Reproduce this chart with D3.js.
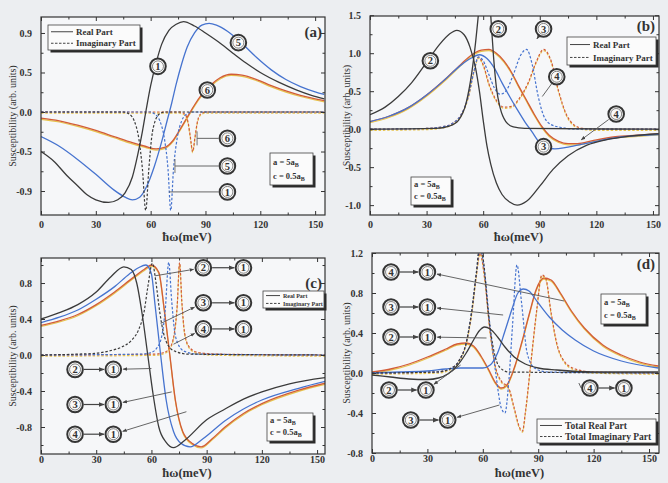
<!DOCTYPE html>
<html>
<head>
<meta charset="utf-8">
<script src="https://cdnjs.cloudflare.com/ajax/libs/d3/7.8.5/d3.min.js"></script>
<style>
  body { margin: 0; background: #eceef1; }
  svg { display: block; font-family: "Liberation Serif", "Times New Roman", serif; }
</style>
</head>
<body>
<svg id="fig" width="668" height="483"></svg>
<script>
// ---- ticks ----
const xTicks = [0, 30, 60, 90, 120, 150];
const yTicksA = [0.9, 0.45, 0, -0.45, -0.9];
const yLabelsA = ["0.9", "0.5", "0.0", "-0.5", "-0.9"];
const yTicksB = [1.5, 1.0, 0.5, 0, -0.5, -1.0];
const yLabelsB = ["1.5", "1.0", "0.5", "0.0", "-0.5", "-1.0"];
const yTicksC = [0.8, 0.4, 0, -0.4, -0.8];
const yLabelsC = ["0.8", "0.4", "0.0", "-0.4", "-0.8"];
const yTicksD = [1.2, 0.8, 0.4, 0, -0.4, -0.8];
const yLabelsD = ["1.2", "0.8", "0.4", "0.0", "-0.4", "-0.8"];

// ---- panel (a): [hw (meV), susceptibility] ----
const aReal1 = [[0,-0.45],[7,-0.56],[14,-0.72],[20,-0.84],[25,-0.94],[30,-1.0],[37,-1.03],[42,-1.0],[46,-0.92],[50,-0.74],[53,-0.48],[55.5,-0.22],[57.5,0.02],[60,0.3],[63,0.56],[66,0.77],[70,0.93],[74,1.0],[78,1.03],[84,0.98],[90,0.9],[97,0.8],[105,0.67],[112,0.56],[120,0.45],[130,0.34],[140,0.25],[148,0.19],[155,0.15]];
const aImag1 = [[0,0],[45,0],[48,-0.02],[51,-0.1],[53.5,-0.3],[55.5,-0.65],[57.3,-1.12],[59,-0.65],[60.5,-0.3],[62.5,-0.1],[65,-0.02],[68,0],[155,0]];
const aReal5 = [[0,-0.28],[10,-0.39],[20,-0.54],[30,-0.71],[40,-0.89],[46,-0.97],[50,-1.0],[54,-0.97],[58,-0.84],[62,-0.62],[66,-0.34],[69,-0.1],[71.5,0.1],[74,0.32],[77,0.55],[80,0.74],[84,0.9],[88,0.99],[92,1.01],[96,0.99],[102,0.92],[110,0.78],[118,0.62],[126,0.48],[134,0.37],[142,0.29],[150,0.23],[155,0.2]];
const aImag5 = [[0,0],[60,0],[62,-0.02],[65,-0.1],[67.5,-0.3],[69.5,-0.65],[71,-1.12],[72.5,-0.65],[74.5,-0.3],[77,-0.1],[80,-0.02],[83,0],[155,0]];
const aReal6 = [[0,-0.07],[10,-0.1],[20,-0.15],[30,-0.21],[40,-0.28],[50,-0.35],[57,-0.39],[63,-0.42],[68,-0.4],[72,-0.33],[76,-0.2],[80,-0.06],[84,0.08],[88,0.2],[93,0.31],[98,0.39],[104,0.43],[110,0.42],[118,0.37],[126,0.3],[134,0.24],[142,0.19],[150,0.15],[155,0.13]];
const aImag6 = [[0,0],[76,0],[79,-0.03],[80.5,-0.12],[81.7,-0.28],[83,-0.45],[84.3,-0.28],[85.5,-0.12],[87,-0.03],[90,0],[155,0]];

// ---- panel (b) ----
const bReal2 = [[0,0.19],[8,0.29],[15,0.43],[22,0.61],[30,0.88],[37,1.12],[42,1.25],[46,1.3],[50,1.24],[53,1.08],[56,0.8],[58,0.5],[60,0.12],[62,-0.22],[64,-0.46],[67,-0.71],[70,-0.86],[74,-0.96],[78,-1.0],[83,-0.95],[90,-0.75],[97,-0.53],[105,-0.35],[115,-0.21],[125,-0.14],[138,-0.09],[153,-0.06]];
const bImag2 = [[0,0],[35,0.01],[42,0.04],[47,0.12],[51,0.35],[54,0.75],[56,1.15],[58,1.65],[60,2.2],[62,2.1],[64,1.5],[65.5,0.95],[67,0.55],[69,0.28],[72,0.1],[76,0.03],[82,0.01],[153,0]];
const bReal3 = [[0,0.1],[10,0.17],[20,0.28],[30,0.45],[40,0.66],[48,0.84],[54,0.94],[58,0.98],[62,0.93],[66,0.8],[70,0.61],[74,0.43],[78,0.26],[82,0.1],[86,-0.04],[89,-0.15],[93,-0.24],[98,-0.26],[104,-0.24],[112,-0.2],[122,-0.15],[134,-0.1],[145,-0.08],[153,-0.07]];
const bImag3 = [[0,0],[30,0.01],[38,0.03],[44,0.08],[48,0.18],[52,0.42],[55,0.75],[57.5,0.95],[60,0.9],[63,0.72],[66,0.54],[69,0.46],[72,0.5],[76,0.72],[80,0.98],[83,1.05],[86,0.85],[89,0.45],[92,0.18],[96,0.06],[102,0.02],[110,0],[153,0]];
const bReal4 = [[0,0.1],[10,0.17],[20,0.28],[30,0.45],[40,0.66],[48,0.85],[54,0.98],[59,1.04],[63,1.05],[67,1.0],[71,0.9],[75,0.75],[79,0.56],[83,0.38],[87,0.2],[91,0.04],[95,-0.08],[100,-0.16],[105,-0.19],[110,-0.19],[118,-0.15],[130,-0.1],[142,-0.08],[153,-0.06]];
const bImag4 = [[0,0],[30,0.01],[38,0.03],[44,0.08],[48,0.18],[52,0.42],[55,0.75],[57.5,0.95],[60,0.85],[63,0.6],[67,0.38],[71,0.29],[75,0.3],[79,0.4],[84,0.62],[88,0.88],[92,1.05],[96,0.9],[100,0.5],[104,0.2],[108,0.06],[113,0.01],[120,0],[153,0]];

// ---- panel (c) ----
const cReal21 = [[0,0.4],[10,0.47],[20,0.56],[30,0.7],[38,0.87],[45,0.98],[49,0.95],[52,0.8],[55,0.45],[58,0.0],[61,-0.45],[64,-0.8],[68,-0.97],[72,-1.03],[78,-0.95],[90,-0.72],[100,-0.6],[110,-0.49],[120,-0.41],[135,-0.32],[155,-0.25]];
const cImag21 = [[0,0],[20,0.01],[30,0.02],[38,0.05],[44,0.09],[49,0.16],[53,0.28],[56,0.48],[58,0.75],[60.5,1.02],[62.5,0.8],[64.5,0.48],[66.5,0.25],[69,0.11],[73,0.04],[80,0.01],[155,0]];
const cReal31 = [[0,0.36],[10,0.42],[20,0.5],[30,0.62],[40,0.76],[48,0.9],[53,0.97],[57,1.0],[60,0.9],[62,0.55],[65,0.0],[68,-0.5],[72,-0.85],[76,-0.98],[81,-1.02],[88,-0.93],[100,-0.73],[110,-0.6],[120,-0.5],[140,-0.37],[155,-0.29]];
const cImag31 = [[0,0],[55,0.01],[60,0.03],[63,0.08],[65.5,0.2],[67.5,0.5],[69.4,1.03],[71,0.6],[72.5,0.28],[74.5,0.12],[78,0.04],[85,0.01],[155,0]];
const cReal41 = [[0,0.33],[10,0.38],[20,0.45],[30,0.56],[40,0.7],[50,0.86],[56,0.95],[60,1.0],[64,0.92],[67,0.5],[70,0.0],[73,-0.5],[77,-0.85],[82,-0.98],[87,-1.02],[93,-0.93],[100,-0.8],[110,-0.65],[120,-0.54],[140,-0.39],[155,-0.31]];
const cImag41 = [[0,0],[62,0.01],[67,0.03],[70,0.08],[72.5,0.25],[74,0.55],[75.3,1.03],[76.5,0.6],[78,0.25],[80.5,0.09],[85,0.03],[95,0.01],[155,0]];

// ---- panel (d) ----
const dReal21 = [[0,-0.02],[10,-0.04],[20,-0.06],[30,-0.065],[36,-0.05],[41,-0.01],[46,0.07],[51,0.2],[55,0.33],[58,0.42],[61,0.46],[64,0.44],[68,0.36],[72,0.26],[77,0.16],[83,0.09],[90,0.05],[100,0.03],[120,0.01],[155,0.01]];
const dImag21 = [[0,0],[35,0.01],[42,0.04],[47,0.12],[51,0.3],[54,0.62],[56.5,1.0],[58.5,1.3],[60.5,1.1],[63,0.6],[66,0.22],[69,0.06],[74,0.01],[155,0]];
const dReal31 = [[0,0],[15,0.01],[30,0.02],[40,0.04],[48,0.05],[55,0.05],[60,0.05],[64,0.08],[68,0.2],[72,0.42],[76,0.65],[79,0.8],[82,0.84],[85,0.82],[90,0.7],[96,0.56],[103,0.43],[110,0.33],[120,0.22],[135,0.12],[155,0.05]];
const dImag31 = [[0,0],[35,0.01],[42,0.04],[47,0.12],[51,0.3],[54,0.62],[56.5,1.0],[58.5,1.25],[61,1.0],[64,0.45],[67,0.0],[70,-0.35],[72,-0.4],[74,-0.1],[76,0.45],[78.5,1.08],[81,0.7],[84,0.2],[88,0.05],[95,0.01],[155,0]];
const dReal41 = [[0,0.01],[10,0.04],[20,0.09],[30,0.16],[40,0.24],[46,0.29],[51,0.3],[55,0.27],[59,0.17],[63,0.04],[67,-0.1],[70,-0.15],[73,-0.12],[77,0.05],[81,0.3],[85,0.58],[89,0.84],[93,0.95],[97,0.93],[102,0.8],[108,0.62],[115,0.45],[125,0.28],[135,0.18],[145,0.11],[155,0.07]];
const dImag41 = [[0,0],[35,0.01],[42,0.04],[47,0.12],[51,0.3],[54,0.6],[56.5,0.98],[58.5,1.2],[61,0.95],[64,0.4],[67,0.05],[70,-0.08],[74,-0.15],[77,-0.35],[80,-0.55],[81.5,-0.58],[83,-0.4],[86,0.1],[89,0.6],[92,0.98],[94,0.95],[97,0.6],[100,0.3],[104,0.12],[110,0.04],[120,0.01],[155,0]];

const BLACK = "#3b3b3b", BLUE = "#4673cf", ORANGE = "#d25c38", YELLOW = "#e7c44c";

const panels = [
  { letter: "(a)", left: 41, right: 325, top: 17, bottom: 215, xMax: 155.4, yDom: [-1.173, 1.082],
    yTicks: yTicksA, yLabels: yLabelsA, yMinor: [0.675, 0.225, -0.225, -0.675], ylabX: 12, xPad: 6, xlabY: 241,
    series: [
      { d: aReal6, c: ORANGE }, { d: aImag6, c: ORANGE, dash: true },
      { d: aReal5, c: BLUE }, { d: aImag5, c: BLUE, dash: true },
      { d: aReal1, c: BLACK }, { d: aImag1, c: BLACK, dash: true }
    ],
    legend: { x: 48, y: 25, w: 92, h: 25, fs: 9, line: 22, items: ["Real Part", "Imaginary Part"] },
    info: { x: 270, y: 153, w: 43, h: 32 },
    letterPos: [322, 37] },
  { letter: "(b)", left: 370, right: 659, top: 16, bottom: 215, xMax: 153.2, yDom: [-1.13, 1.49],
    yTicks: yTicksB, yLabels: yLabelsB, yMinor: [1.25, 0.75, 0.25, -0.25, -0.75], ylabX: 346, xPad: 6, xlabY: 241,
    series: [
      { d: bReal4, c: ORANGE }, { d: bImag4, c: ORANGE, dash: true },
      { d: bReal3, c: BLUE }, { d: bImag3, c: BLUE, dash: true },
      { d: bReal2, c: BLACK }, { d: bImag2, c: BLACK }
    ],
    legend: { x: 567, y: 37, w: 89, h: 28, fs: 9, line: 20, items: ["Real Part", "Imaginary Part"] },
    info: { x: 411, y: 177, w: 40, h: 28 },
    letterPos: [655, 31] },
  { letter: "(c)", left: 41, right: 325, top: 258, bottom: 454, xMax: 154.3, yDom: [-1.1, 1.078],
    yTicks: yTicksC, yLabels: yLabelsC, yMinor: [1.0, 0.6, 0.2, -0.2, -0.6, -1.0], ylabX: 12, xPad: 2, xlabY: 477,
    series: [
      { d: cReal41, c: ORANGE }, { d: cImag41, c: ORANGE, dash: true },
      { d: cReal31, c: BLUE }, { d: cImag31, c: BLUE, dash: true },
      { d: cReal21, c: BLACK }, { d: cImag21, c: BLACK, dash: true }
    ],
    legend: { x: 263, y: 291, w: 61, h: 17, fs: 6, line: 14, items: ["Real Part", "Imaginary Part"] },
    info: { x: 267, y: 413, w: 46, h: 28 },
    letterPos: [322, 288] },
  { letter: "(d)", left: 372, right: 659, top: 253, bottom: 453, xMax: 155.4, yDom: [-0.8, 1.2],
    yTicks: yTicksD, yLabels: yLabelsD, yMinor: [1.0, 0.6, 0.2, -0.2, -0.6], ylabX: 346, xPad: 2, xlabY: 477,
    series: [
      { d: dReal41, c: ORANGE }, { d: dImag41, c: ORANGE, dash: true },
      { d: dReal31, c: BLUE }, { d: dImag31, c: BLUE, dash: true },
      { d: dReal21, c: BLACK }, { d: dImag21, c: BLACK, dash: true }
    ],
    legend: { x: 537, y: 419, w: 119, h: 24, fs: 9.5, line: 22, items: ["Total Real Part", "Total Imaginary Part"] },
    info: { x: 601, y: 294, w: 45, h: 30 },
    letterPos: [655, 269] }
];

// circled labels, in data units: single [v, val, text], pairs [vA, vB, val, a, b]
// leaders [v1, val1, v2, val2, kind]
const notes = [
  { singles: [[64, 0.52, "1"], [108, 0.79, "5"], [91, 0.25, "6"], [102, -0.30, "6"], [102, -0.615, "5"], [102, -0.91, "1"]],
    pairs: [],
    leaders: [[85.4, -0.30, 102, -0.30, "bar"], [73.3, -0.615, 102, -0.615, "bar"], [70, -0.91, 102, -0.91, ""]] },
  { singles: [[32, 0.9, "2"], [68, 1.32, "2"], [92, 1.32, "3"], [99, 0.69, "4"], [92, -0.23, "3"], [130.5, 0.2, "4"]],
    pairs: [],
    leaders: [[92, 1.32, 88.5, 1.19, "arrow"], [130.5, 0.2, 112, -0.14, "arrow"], [99, 0.69, 96, 0.43, ""]] },
  { singles: [],
    pairs: [[88.2, 110, 0.97, "2", "1"], [88.2, 110, 0.58, "3", "1"], [88.2, 110, 0.29, "4", "1"],
            [18.5, 39.3, -0.16, "2", "1"], [18.5, 39.3, -0.55, "3", "1"], [18.5, 39.3, -0.88, "4", "1"]],
    leaders: [[62, 0.88, 88.2, 0.97, "in"], [65, 0.35, 88.2, 0.58, "in"], [72, 0.12, 88.2, 0.29, "in"],
              [60, -0.15, 39.3, -0.16, "in"], [71, -0.41, 39.3, -0.55, "in"], [79, -0.63, 39.3, -0.88, "in"]] },
  { singles: [],
    pairs: [[10.3, 30, 1.01, "4", "1"], [10.3, 30, 0.66, "3", "1"], [10.3, 30, 0.36, "2", "1"],
            [9.2, 29.2, -0.17, "2", "1"], [21, 41, -0.47, "3", "1"], [118, 136.4, -0.15, "4", "1"]],
    leaders: [[104, 0.72, 30, 1.01, "in"], [71, 0.58, 30, 0.66, "in"], [62, 0.35, 30, 0.36, "in"],
              [48, 0.08, 29.2, -0.17, "in"], [69, -0.32, 41, -0.47, "in"], [112, -0.1, 118, -0.15, ""]] }
];

const svg = d3.select("#fig");
const defs = svg.append("defs");
defs.append("marker").attr("id", "arr").attr("viewBox", "0 0 10 10")
  .attr("refX", 9).attr("refY", 5).attr("markerWidth", 5).attr("markerHeight", 5)
  .attr("orient", "auto")
  .append("path").attr("d", "M0,1L10,5L0,9z").attr("fill", "#444");

const R = 7.8;

function circleLabel(g, cx, cy, t) {
  g.append("circle").attr("cx", cx).attr("cy", cy).attr("r", R)
    .attr("fill", "#fafafa").attr("stroke", "#353535").attr("stroke-width", 2);
  g.append("circle").attr("cx", cx).attr("cy", cy).attr("r", R - 2.3)
    .attr("fill", "none").attr("stroke", "#555").attr("stroke-width", 0.7);
  g.append("text").attr("x", cx).attr("y", cy + 3.6).attr("text-anchor", "middle")
    .attr("font-size", 10.5).attr("font-weight", "bold").attr("fill", "#333").text(t);
}

function shadowBox(g, b) {
  g.append("rect").attr("x", b.x + 2.5).attr("y", b.y + 2.5).attr("width", b.w).attr("height", b.h).attr("fill", "#2a2a2a");
  g.append("rect").attr("x", b.x).attr("y", b.y).attr("width", b.w).attr("height", b.h)
    .attr("fill", "#fbfbfb").attr("stroke", "#444").attr("stroke-width", 0.8);
}

panels.forEach((p, i) => {
  const x = d3.scaleLinear().domain([0, p.xMax]).range([p.left, p.right]);
  const y = d3.scaleLinear().domain(p.yDom).range([p.bottom, p.top]);
  const g = svg.append("g");
  const W = p.right - p.left, H = p.bottom - p.top;

  g.append("rect").attr("x", p.left).attr("y", p.top).attr("width", W).attr("height", H).attr("fill", "#f6f7f9");

  const clipId = "clip" + i;
  defs.append("clipPath").attr("id", clipId).append("rect")
    .attr("x", p.left).attr("y", p.top).attr("width", W).attr("height", H);

  const line = d3.line().x(d => x(d[0])).y(d => y(d[1])).curve(d3.curveMonotoneX);
  const plot = g.append("g").attr("clip-path", `url(#${clipId})`);

  p.series.forEach(s => {
    if (s.c === ORANGE) {
      plot.append("path").attr("d", line(s.d)).attr("fill", "none").attr("stroke", YELLOW)
        .attr("stroke-width", 1.2).attr("transform", "translate(0,1.2)")
        .attr("stroke-dasharray", s.dash ? "2.5,1.8" : null);
    }
    plot.append("path").attr("d", line(s.d)).attr("fill", "none").attr("stroke", s.c)
      .attr("stroke-width", s.dash ? 1.2 : 1.3)
      .attr("stroke-dasharray", s.dash ? "2.5,1.8" : null);
  });

  // axes with inward ticks
  const tickFont = sel => sel.selectAll("text").attr("font-family", "Liberation Serif, serif")
    .attr("font-size", 10).attr("font-weight", "bold").attr("fill", "#333");
  const clean = sel => { sel.select(".domain").remove(); sel.selectAll("line").attr("stroke", "#333"); };

  const xMinor = d3.range(15, p.xMax, 30);
  g.append("g").attr("transform", `translate(0,${p.bottom})`)
    .call(d3.axisBottom(x).tickValues(xTicks).tickSizeInner(-4).tickSizeOuter(0).tickPadding(p.xPad))
    .call(clean).call(tickFont);
  g.append("g").attr("transform", `translate(0,${p.bottom})`)
    .call(d3.axisBottom(x).tickValues(xMinor).tickSize(-2.5).tickFormat("")).call(clean);
  g.append("g").attr("transform", `translate(0,${p.top})`)
    .call(d3.axisTop(x).tickValues(xTicks).tickSize(-4).tickFormat("")).call(clean);
  g.append("g").attr("transform", `translate(0,${p.top})`)
    .call(d3.axisTop(x).tickValues(xMinor).tickSize(-2.5).tickFormat("")).call(clean);

  g.append("g").attr("transform", `translate(${p.left},0)`)
    .call(d3.axisLeft(y).tickValues(p.yTicks).tickSizeInner(-4).tickSizeOuter(0).tickPadding(9)
      .tickFormat((d, k) => p.yLabels[k]))
    .call(clean).call(tickFont);
  g.append("g").attr("transform", `translate(${p.left},0)`)
    .call(d3.axisLeft(y).tickValues(p.yMinor).tickSize(-2.5).tickFormat("")).call(clean);
  g.append("g").attr("transform", `translate(${p.right},0)`)
    .call(d3.axisRight(y).tickValues(p.yTicks).tickSize(-4).tickFormat("")).call(clean);
  g.append("g").attr("transform", `translate(${p.right},0)`)
    .call(d3.axisRight(y).tickValues(p.yMinor).tickSize(-2.5).tickFormat("")).call(clean);

  g.append("rect").attr("x", p.left).attr("y", p.top).attr("width", W).attr("height", H)
    .attr("fill", "none").attr("stroke", "#333").attr("stroke-width", 1.2);

  // axis titles
  g.append("text").attr("x", (p.left + p.right) / 2 + 4).attr("y", p.xlabY).attr("text-anchor", "middle")
    .attr("font-size", 12.5).attr("font-weight", "bold").attr("fill", "#333").text("ħω(meV)");
  g.append("text").attr("transform", `translate(${p.ylabX},${(p.top + p.bottom) / 2}) rotate(-90)`)
    .attr("text-anchor", "middle").attr("dy", "0.35em")
    .attr("font-size", 10).attr("fill", "#333").text("Susceptibility (arb. units)");

  // legend
  const L = p.legend;
  shadowBox(g, L);
  L.items.forEach((t, k) => {
    const yy = L.y + L.h * (k === 0 ? 0.27 : 0.73);
    g.append("line").attr("x1", L.x + 3).attr("x2", L.x + 3 + L.line).attr("y1", yy).attr("y2", yy)
      .attr("stroke", "#444").attr("stroke-width", 1).attr("stroke-dasharray", k ? "2.5,1.5" : null);
    g.append("text").attr("x", L.x + 6 + L.line).attr("y", yy).attr("dy", "0.35em")
      .attr("font-size", L.fs).attr("font-weight", "bold").attr("fill", "#333").text(t);
  });

  // lattice info
  const I = p.info;
  shadowBox(g, I);
  [["a = 5a", I.y + I.h * 0.36], ["c = 0.5a", I.y + I.h * 0.8]].forEach(([t, yy]) => {
    const tx = g.append("text").attr("x", I.x + 3).attr("y", yy)
      .attr("font-size", 8.5).attr("font-weight", "bold").attr("fill", "#333").text(t);
    tx.append("tspan").attr("font-size", 6).attr("dy", 2).text("B");
  });

  g.append("text").attr("x", p.letterPos[0]).attr("y", p.letterPos[1]).attr("text-anchor", "end")
    .attr("font-size", 15).attr("font-weight", "bold").attr("fill", "#333").text(p.letter);

  // annotations
  const n = notes[i];
  const ann = g.append("g");
  n.leaders.forEach(([v1, w1, v2, w2, kind]) => {
    let x1 = x(v1), y1 = y(w1), x2 = x(v2), y2 = y(w2);
    if (kind === "in") {
      const dx = x2 - x1, dy = y2 - y1, len = Math.hypot(dx, dy);
      x2 -= dx / len * (R + 2); y2 -= dy / len * (R + 2);
    } else if (kind === "arrow") {
      const dx = x2 - x1, dy = y2 - y1, len = Math.hypot(dx, dy);
      x1 += dx / len * (R + 1.5); y1 += dy / len * (R + 1.5);
    } else {
      x2 -= R + 1;
    }
    ann.append("line").attr("x1", x1).attr("y1", y1).attr("x2", x2).attr("y2", y2)
      .attr("stroke", "#555").attr("stroke-width", 0.9)
      .attr("marker-end", kind === "in" || kind === "arrow" ? "url(#arr)" : null);
    if (kind === "bar") {
      ann.append("line").attr("x1", x1).attr("x2", x1).attr("y1", y1 - 7).attr("y2", y1 + 7)
        .attr("stroke", "#666").attr("stroke-width", 0.9);
    }
  });
  n.pairs.forEach(([va, vb, w, a, b]) => {
    const xa = x(va), xb = x(vb), yy = y(w);
    ann.append("line").attr("x1", xa + R + 1).attr("x2", xb - R - 1.5).attr("y1", yy).attr("y2", yy)
      .attr("stroke", "#444").attr("stroke-width", 1.2).attr("marker-end", "url(#arr)");
    circleLabel(ann, xa, yy, a);
    circleLabel(ann, xb, yy, b);
  });
  n.singles.forEach(([v, w, t]) => circleLabel(ann, x(v), y(w), t));
});
</script>
</body>
</html>
